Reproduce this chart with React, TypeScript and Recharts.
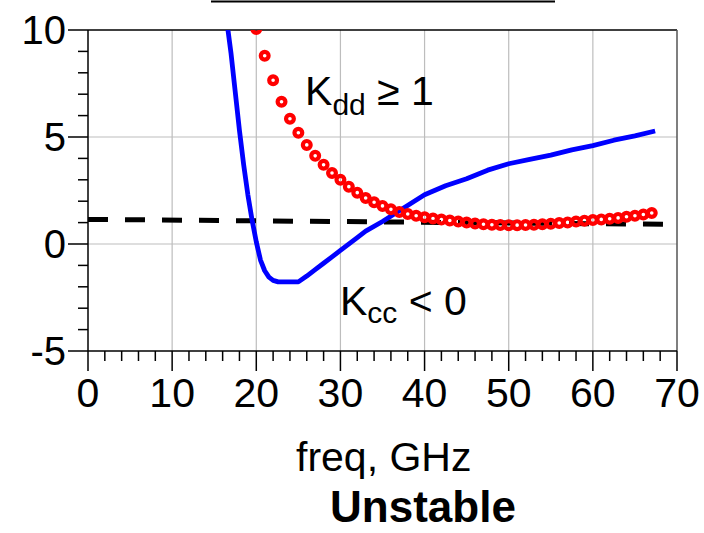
import React from 'react';
import { LineChart, Line, XAxis, YAxis, CartesianGrid, ReferenceLine, ReferenceDot } from 'recharts';

// Red circles: K_dd vs frequency, GHz
const kddFreq = [20,21,22,23,24,25,26,27,28,29,30,31,32,33,34,35,36,37,38,39,40,41,42,43,44,45,46,47,48,49,50,51,52,53,54,55,56,57,58,59,60,61,62,63,64,65,66,67];
const kddVal = [10.05,8.8,7.65,6.65,5.85,5.2,4.63,4.12,3.7,3.32,3.0,2.68,2.4,2.15,1.95,1.78,1.62,1.5,1.4,1.32,1.25,1.19,1.14,1.1,1.05,1.0,0.96,0.92,0.9,0.89,0.88,0.88,0.89,0.9,0.92,0.95,0.98,1.01,1.05,1.09,1.12,1.15,1.18,1.22,1.27,1.32,1.38,1.45];

// Blue line: K_cc vs frequency
const kccFreq = [16.5,17,17.5,18,18.5,19,19.5,20,20.5,21,21.5,22,22.6,23.5,25,26,27,28,29,30,32,33,35,37,40,42.5,45,47.5,50,52.5,55,57.5,60,62.5,65,67.4];
const kccVal = [10.4,8.9,7.1,5.3,3.7,2.3,1.12,0.1,-0.75,-1.25,-1.55,-1.7,-1.77,-1.77,-1.77,-1.5,-1.2,-0.9,-0.6,-0.3,0.3,0.6,1.05,1.55,2.3,2.72,3.05,3.45,3.75,3.95,4.15,4.4,4.6,4.85,5.05,5.28];

// Dashed threshold line
const threshFreq = [0, 69];
const threshVal = [1.15, 0.92];

const xTicks = [0,2,4,6,8,10,12,14,16,18,20,22,24,26,28,30,32,34,36,38,40,42,44,46,48,50,52,54,56,58,60,62,64,66,68,70];
const yTicks = [-5,-4,-3,-2,-1,0,1,2,3,4,5,6,7,8,9,10];
const xGrid = [10,20,30,40,50,60];
const yGrid = [0,5];

const kddData = kddFreq.map((f, i) => ({ f, v: kddVal[i] }));
const kccData = kccFreq.map((f, i) => ({ f, v: kccVal[i] }));
const threshData = threshFreq.map((f, i) => ({ f, v: threshVal[i] }));

const FONT = '"Liberation Sans", Arial, sans-serif';

const XTick = (props: any) => {
  const { x, y, payload } = props;
  const v = payload.value;
  const major = v % 10 === 0;
  return (
    <g>
      <line x1={x} x2={x} y1={y} y2={y + (major ? 20 : 10)} stroke="#000" strokeWidth={1.5} />
      {major && (
        <text x={x} y={y + 56} textAnchor="middle" fontSize={41} fontFamily={FONT} fill="#000">{v}</text>
      )}
    </g>
  );
};

const YTick = (props: any) => {
  const { x, y, payload } = props;
  const v = payload.value;
  const major = v % 5 === 0;
  return (
    <g>
      <line x1={x - (major ? 20 : 10)} x2={x} y1={y} y2={y} stroke="#000" strokeWidth={1.5} />
      {major && (
        <text x={x - 22} y={y + 14} textAnchor="end" fontSize={40} fontFamily={FONT} fill="#000">{v}</text>
      )}
    </g>
  );
};

const KddLabel = (props: any) => {
  const { viewBox } = props;
  const x = viewBox.x + (viewBox.width || 0) / 2;
  const y = viewBox.y + (viewBox.height || 0) / 2;
  return (
    <text x={x} y={y} fontSize={41} fontFamily={FONT} fill="#000">
      <tspan>K</tspan>
      <tspan dy={10} fontSize={30}>dd</tspan>
      <tspan dy={-10}>{' \u2265 1'}</tspan>
    </text>
  );
};

const KccLabel = (props: any) => {
  const { viewBox } = props;
  const x = viewBox.x + (viewBox.width || 0) / 2;
  const y = viewBox.y + (viewBox.height || 0) / 2;
  return (
    <text x={x} y={y} fontSize={41} fontFamily={FONT} fill="#000">
      <tspan>K</tspan>
      <tspan dy={8} fontSize={30}>cc</tspan>
      <tspan dy={-8}>{' < 0'}</tspan>
    </text>
  );
};

export default function App() {
  return (
    <div style={{ position: 'absolute', left: 0, top: 0, width: 704, height: 533, background: '#fff' }}>
      <LineChart width={704} height={533} margin={{ top: 30, right: 27, bottom: 122, left: 0 }}>
        <CartesianGrid stroke="#bdbdbd" strokeWidth={1.2} horizontalValues={yGrid} verticalValues={xGrid} />
        <XAxis
          type="number"
          dataKey="f"
          domain={[0, 70]}
          ticks={xTicks}
          interval={0}
          tickSize={0}
          tickMargin={0}
          tickLine={false}
          tick={<XTick />}
          height={60}
          axisLine={{ stroke: '#000', strokeWidth: 1.5 }}
          allowDataOverflow
        />
        <YAxis
          type="number"
          dataKey="v"
          domain={[-5, 10]}
          ticks={yTicks}
          interval={0}
          tickSize={0}
          tickMargin={0}
          tickLine={false}
          tick={<YTick />}
          width={88}
          axisLine={{ stroke: '#000', strokeWidth: 1.5 }}
          allowDataOverflow
        />
        <ReferenceLine y={10} stroke="#000" strokeWidth={1.5} />
        <ReferenceLine x={70} stroke="#555" strokeWidth={1.5} />
        <Line
          data={threshData}
          dataKey="v"
          type="linear"
          stroke="#000"
          strokeWidth={5}
          strokeDasharray="20 17"
          dot={false}
          isAnimationActive={false}
        />
        <Line
          data={kccData}
          dataKey="v"
          type="linear"
          stroke="#0000ff"
          strokeWidth={4.8}
          strokeLinejoin="round"
          dot={false}
          isAnimationActive={false}
        />
        <Line
          data={kddData}
          dataKey="v"
          type="linear"
          stroke="none"
          strokeWidth={0}
          dot={{ r: 3.9, stroke: '#ff0000', strokeWidth: 4.2, fill: 'none' }}
          isAnimationActive={false}
        />
        <ReferenceDot x={25.8} y={6.5} r={0} stroke="none" fill="none" label={<KddLabel />} />
        <ReferenceDot x={29.95} y={-3.32} r={0} stroke="none" fill="none" label={<KccLabel />} />
      </LineChart>
      <svg width={704} height={533} style={{ position: 'absolute', left: 0, top: 0, pointerEvents: 'none' }}>
        <line x1={211} x2={555} y1={1.5} y2={1.5} stroke="#000" strokeWidth={2} />
        <text x={296} y={471} fontSize={41} fontFamily={FONT} fill="#000">freq, GHz</text>
        <text x={423} y={522} textAnchor="middle" fontSize={44} fontWeight="bold" fontFamily={FONT} fill="#000">Unstable</text>
      </svg>
    </div>
  );
}
